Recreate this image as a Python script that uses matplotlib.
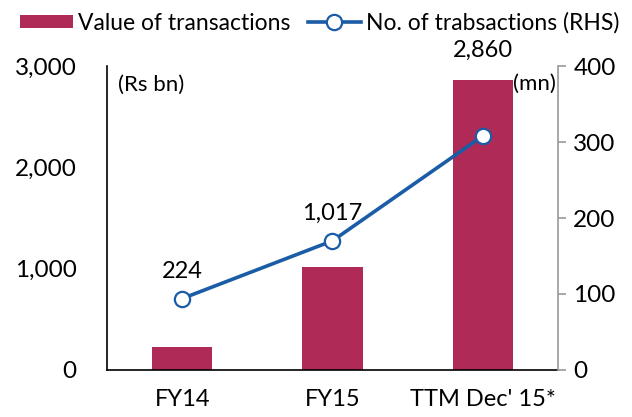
import matplotlib.pyplot as plt
import numpy as np

plt.rcParams['font.family'] = ['Lato', 'DejaVu Sans']

periods = ['FY14', 'FY15', "TTM Dec' 15*"]
value_bn = [224, 1017, 2860]
count_mn = [94, 170, 308]
value_labels = ['224', '1,017', '2,860']

bar_color = '#AF2A56'
line_color = '#1A5CA6'

fig = plt.figure(figsize=(6.32, 4.17), dpi=100)
ax = fig.add_axes([107/632, 47/417, 451/632, 304/417])
x = np.arange(len(periods))

bars = ax.bar(x, value_bn, width=0.4, color=bar_color, label='Value of transactions', zorder=2)
ax.set_xlim(-0.5, 2.5)
ax.set_ylim(0, 3000)
ax.set_yticks([0, 1000, 2000, 3000])
ax.set_yticklabels(['0', '1,000', '2,000', '3,000'])
ax.set_xticks(x)
ax.set_xticklabels(periods)
ax.tick_params(axis='y', length=0, pad=22, labelsize=17.5)
ax.tick_params(axis='x', length=0, pad=14, labelsize=17)
ax.spines['top'].set_visible(False)
ax.spines['right'].set_visible(False)
ax.spines['left'].set_linewidth(1.2)
ax.spines['bottom'].set_linewidth(1.2)

ax2 = ax.twinx()
ln, = ax2.plot(x, count_mn, color=line_color, lw=2.6, marker='o', ms=11,
               mfc='white', mec=line_color, mew=1.6, zorder=3,
               label='No. of trabsactions (RHS)')
ax2.set_ylim(0, 400)
ax2.set_yticks([0, 100, 200, 300, 400])
ax2.tick_params(axis='y', length=6, width=1.2, color='#999999', pad=5, labelsize=17.5)
for s in ['top', 'left', 'bottom']:
    ax2.spines[s].set_visible(False)
ax2.spines['right'].set_color('#999999')
ax2.spines['right'].set_linewidth(1.2)

# data labels
for i in range(2):
    ax2.annotate(value_labels[i], (x[i], count_mn[i]), xytext=(0, 12),
                 textcoords='offset points', ha='center', va='bottom', fontsize=17)
ax.annotate(value_labels[2], (x[2], value_bn[2]), xytext=(0, 14),
            textcoords='offset points', ha='center', va='bottom', fontsize=17,
            annotation_clip=False)

ax.text(0.025, 0.97, '(Rs bn)', transform=ax.transAxes, ha='left', va='top', fontsize=16)
ax.text(0.995, 0.975, '(mn)', transform=ax.transAxes, ha='right', va='top', fontsize=16)

fig.legend([bars, ln], ['Value of transactions', 'No. of trabsactions (RHS)'],
           loc='center left', bbox_to_anchor=(20/632, 1 - 23/417), ncol=2, frameon=False,
           fontsize=16.5, handlelength=2.3, handleheight=0.5, handletextpad=0.25,
           columnspacing=0.75, borderaxespad=0, borderpad=0)

plt.savefig('out.png', dpi=100)
